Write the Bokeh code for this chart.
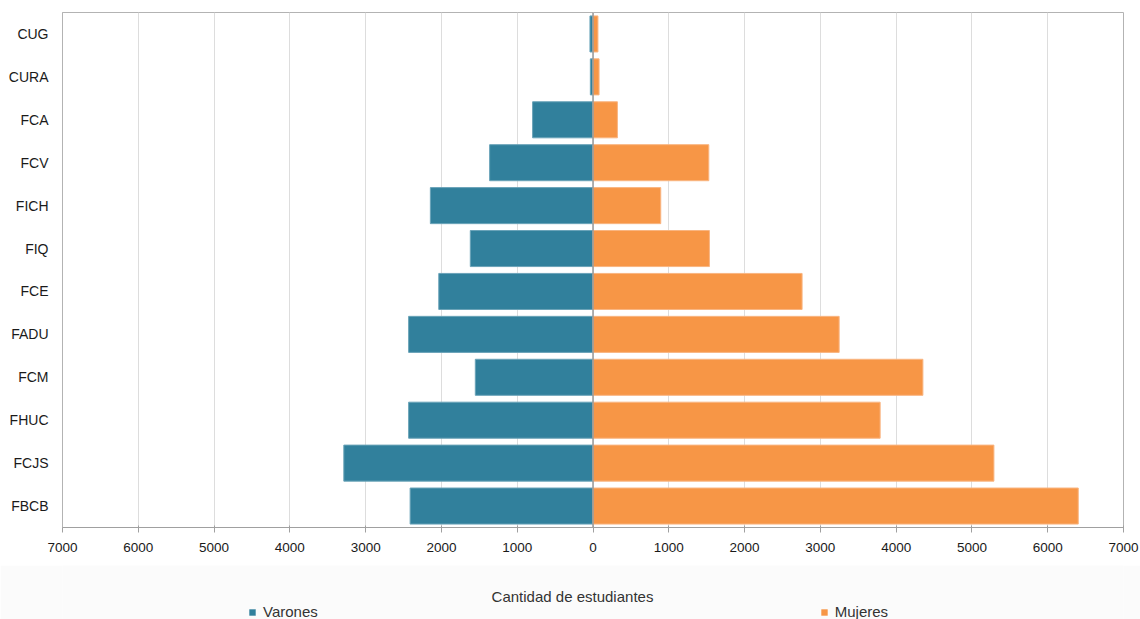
from bokeh.plotting import figure
from bokeh.layouts import column
from bokeh.models import (FactorRange, Range1d, FixedTicker, CustomJSTickFormatter,
                          Legend, LegendItem, Label)
from bokeh.embed import file_html
from bokeh.resources import INLINE

# Data (top to bottom as in the chart)
categories = ["CUG", "CURA", "FCA", "FCV", "FICH", "FIQ", "FCE", "FADU", "FCM", "FHUC", "FCJS", "FBCB"]
varones = [40, 35, 797, 1364, 2146, 1619, 2035, 2433, 1553, 2433, 3288, 2413]
mujeres = [65, 80, 322, 1528, 894, 1536, 2759, 3248, 4353, 3789, 5290, 6403]
x_ticks = [-7000, -6000, -5000, -4000, -3000, -2000, -1000, 0, 1000, 2000, 3000, 4000, 5000, 6000, 7000]
series_names = ["Varones", "Mujeres"]

TEAL = "#31809c"
ORANGE = "#f79646"
FONT = "Liberation Sans"

factors = list(reversed(categories))
p = figure(width=1140, height=565, y_range=FactorRange(factors=factors, range_padding=0),
           x_range=Range1d(-7000, 7000), output_backend="svg", toolbar_location=None,
           min_border_left=62, min_border_right=17, min_border_top=12, min_border_bottom=38)

neg = [-v for v in varones]
r1 = p.hbar(y=categories, left=neg, right=0, height=0.84, fill_color=TEAL,
            line_color="#6aa3b8", line_width=1)
r2 = p.hbar(y=categories, left=0, right=mujeres, height=0.84, fill_color=ORANGE,
            line_color="#f9b581", line_width=1)

# zero line
p.segment(x0=[0], y0=[0], x1=[0], y1=[len(categories)], line_color="#9a9a9a", line_width=1.5)

p.xaxis.ticker = FixedTicker(ticks=x_ticks)
p.xaxis.formatter = CustomJSTickFormatter(code="return Math.abs(tick).toString();")
p.xaxis.major_label_text_font = FONT
p.xaxis.major_label_text_font_size = "13.5px"
p.xaxis.major_label_text_color = "#1a1a1a"
p.xaxis.major_label_standoff = 10
p.xaxis.axis_line_color = "#a0a0a0"
p.xaxis.major_tick_line_color = "#a0a0a0"
p.xaxis.major_tick_out = 5
p.xaxis.major_tick_in = 2
p.xaxis.minor_tick_line_color = None

p.yaxis.major_label_text_font = FONT
p.yaxis.major_label_text_font_size = "14px"
p.yaxis.major_label_text_color = "#1a1a1a"
p.yaxis.axis_line_color = "#b3b3b3"
p.yaxis.major_tick_line_color = None
p.yaxis.minor_tick_line_color = None
p.yaxis.major_label_standoff = 8

p.xgrid.grid_line_color = "#dddddd"
p.xgrid.grid_line_width = 1
p.ygrid.grid_line_color = None

p.outline_line_color = "#b3b3b3"
p.outline_line_width = 1
p.background_fill_color = "white"
p.border_fill_color = "white"

# Bottom strip: axis title and legend (its frame is aligned with the chart's frame)
p2 = figure(width=1140, height=54, x_range=Range1d(0, 1), y_range=Range1d(0, 1),
            output_backend="svg", toolbar_location=None, x_axis_type=None, y_axis_type=None,
            min_border_left=62, min_border_right=17, min_border_top=0, min_border_bottom=0)
p2.xgrid.grid_line_color = None
p2.ygrid.grid_line_color = None
p2.outline_line_color = None
p2.background_fill_color = "#fbfbfb"
p2.border_fill_color = "#fbfbfb"

xtitle = Label(x=510, y=23, x_units="screen", y_units="screen",
               text="Cantidad de estudiantes", text_font=FONT, text_font_size="15px",
               text_color="#333333", text_align="center", text_baseline="middle")
p2.add_layout(xtitle)

# legend swatches (renderers kept outside the visible range)
d1 = p2.hbar(y=[-10], left=[0], right=[1], height=0.8, fill_color=TEAL, line_color=None)
d2 = p2.hbar(y=[-10], left=[0], right=[1], height=0.8, fill_color=ORANGE, line_color=None)
leg = Legend(items=[LegendItem(label=series_names[0], renderers=[d1]),
                    LegendItem(label=series_names[1], renderers=[d2])],
             orientation="horizontal", location=(186, -1), spacing=502,
             glyph_width=8, glyph_height=8, label_standoff=7, padding=0, margin=0,
             label_text_font=FONT, label_text_font_size="15px", label_text_color="#333333",
             border_line_color=None, background_fill_alpha=0, label_height=16)
p2.add_layout(leg)

layout = column(p, p2, spacing=0)
open("out.html", "w").write(file_html(layout, INLINE))
